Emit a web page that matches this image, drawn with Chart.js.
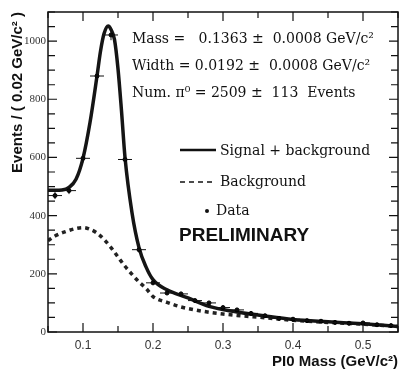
<!DOCTYPE html>
<html>
<head>
<meta charset="utf-8">
<script src="https://cdn.jsdelivr.net/npm/chart.js@4"></script>
<style>
  html, body { margin: 0; padding: 0; background: #fff; }
  #wrap { width: 415px; height: 375px; }
</style>
</head>
<body>
<div id="wrap"><canvas id="massChart" width="415" height="375"></canvas></div>
<script>
// fitted curve: signal + background
const fitMass = [0.05, 0.06, 0.07, 0.08, 0.09, 0.10, 0.11, 0.12, 0.125, 0.13, 0.136, 0.14, 0.145, 0.15, 0.155, 0.16, 0.17, 0.18, 0.19, 0.20, 0.22, 0.25, 0.28, 0.32, 0.36, 0.40, 0.45, 0.50, 0.55];
const fitEvents = [487, 487, 488, 497, 525, 597, 720, 880, 965, 1025, 1052, 1040, 1005, 905, 760, 600, 410, 290, 224, 180, 145, 117, 88, 69, 55, 43, 35, 28, 19];

// background only
const bkgMass = [0.05, 0.06, 0.075, 0.09, 0.10, 0.11, 0.12, 0.13, 0.14, 0.15, 0.16, 0.17, 0.18, 0.19, 0.20, 0.22, 0.24, 0.26, 0.28, 0.30, 0.32, 0.36, 0.40, 0.45, 0.50, 0.55];
const bkgEvents = [314, 330, 345, 356, 359, 353, 340, 318, 290, 258, 226, 198, 172, 150, 122, 102, 86, 76, 68, 62, 57, 49, 40, 33, 27, 19];

// histogram bins (0.02 GeV wide)
const dataMass = [0.06, 0.08, 0.10, 0.12, 0.14, 0.16, 0.18, 0.20, 0.22, 0.24, 0.26, 0.28, 0.30, 0.32, 0.34, 0.36, 0.38, 0.40, 0.42, 0.44, 0.46, 0.48, 0.50, 0.52, 0.54];
const dataEvents = [469, 486, 597, 880, 1021, 593, 283, 169, 134, 131, 108, 100, 84, 76, 64, 56, 47, 44, 39, 37, 33, 30, 31, 25, 22];
const dataErr = [12, 12, 14, 17, 18, 14, 10, 8, 7, 7, 6, 6, 6, 5, 5, 5, 4, 4, 4, 4, 4, 4, 4, 3, 3];
const binHalf = 0.01;

const fitLines = [
    "Mass =   0.1363 \u00b1  0.0008 GeV/c\u00b2",
    "Width = 0.0192 \u00b1  0.0008 GeV/c\u00b2",
    "Num. \u03c0\u2070 = 2509 \u00b1  113  Events"
];

const serif = "'DejaVu Serif', serif";
const sans = "'Liberation Sans', Arial, sans-serif";

function toPoints(xs, ys) {
    return xs.map((x, i) => ({ x: x, y: ys[i] }));
}

// frame, inward ticks, error bars, legend and fit results
const decorations = {
    id: "decorations",
    afterDatasetsDraw(chart) {
        const ctx = chart.ctx;
        const xs = chart.scales.x;
        const ys = chart.scales.y;
        ctx.save();
        ctx.strokeStyle = "#111";
        ctx.lineWidth = 1;
        dataMass.forEach((m, i) => {
            const px = xs.getPixelForValue(m);
            const py = ys.getPixelForValue(dataEvents[i]);
            const x0 = xs.getPixelForValue(m - binHalf);
            const x1 = xs.getPixelForValue(m + binHalf);
            const y0 = ys.getPixelForValue(dataEvents[i] - dataErr[i]);
            const y1 = ys.getPixelForValue(dataEvents[i] + dataErr[i]);
            ctx.beginPath();
            ctx.moveTo(x0, py); ctx.lineTo(x1, py);
            ctx.moveTo(px, y0); ctx.lineTo(px, y1);
            ctx.stroke();
        });
        ctx.restore();
    },
    afterDraw(chart) {
        const ctx = chart.ctx;
        const a = chart.chartArea;
        const xs = chart.scales.x;
        const ys = chart.scales.y;
        ctx.save();

        // frame
        ctx.strokeStyle = "#111";
        ctx.lineWidth = 1.5;
        ctx.strokeRect(a.left, a.top, a.right - a.left, a.bottom - a.top);

        // ticks pointing into the plot
        ctx.lineWidth = 1.2;
        ctx.beginPath();
        xs.ticks.forEach(t => {
            const px = xs.getPixelForValue(t.value);
            const len = t.label ? 9 : 6;
            ctx.moveTo(px, a.bottom); ctx.lineTo(px, a.bottom - len);
            ctx.moveTo(px, a.top); ctx.lineTo(px, a.top + len);
        });
        ys.ticks.forEach(t => {
            const py = ys.getPixelForValue(t.value);
            const len = t.label ? 9 : 7;
            ctx.moveTo(a.left, py); ctx.lineTo(a.left + len, py);
            ctx.moveTo(a.right, py); ctx.lineTo(a.right - len, py);
        });
        ctx.stroke();

        // fit results
        ctx.fillStyle = "#111";
        ctx.font = "14px " + serif;
        ctx.textBaseline = "middle";
        ctx.textAlign = "left";
        fitLines.forEach((line, i) => ctx.fillText(line, 132, 39 + i * 27));

        // legend
        ctx.lineWidth = 2.5;
        ctx.beginPath();
        ctx.moveTo(180, 150); ctx.lineTo(216, 150);
        ctx.stroke();
        ctx.setLineDash([5, 4]);
        ctx.lineWidth = 1.5;
        ctx.beginPath();
        ctx.moveTo(180, 182); ctx.lineTo(216, 182);
        ctx.stroke();
        ctx.setLineDash([]);
        ctx.beginPath();
        ctx.arc(207, 211, 2, 0, Math.PI * 2);
        ctx.fill();
        ctx.fillText("Signal + background", 220, 151);
        ctx.fillText("Background", 220, 182);
        ctx.fillText("Data", 216, 211);

        ctx.font = "bold 19px " + sans;
        ctx.fillText("PRELIMINARY", 179, 236);
        ctx.restore();
    }
};

const chart = new Chart(document.getElementById("massChart"), {
    type: "line",
    data: {
        datasets: [
            {
                type: "scatter",
                label: "Data",
                data: toPoints(dataMass, dataEvents),
                backgroundColor: "#000",
                borderColor: "#000",
                pointRadius: 2,
                order: 0
            },
            {
                label: "Signal + background",
                data: toPoints(fitMass, fitEvents),
                borderColor: "#151515",
                borderWidth: 3.5,
                pointRadius: 0,
                cubicInterpolationMode: "monotone",
                fill: false,
                order: 1
            },
            {
                label: "Background",
                data: toPoints(bkgMass, bkgEvents),
                borderColor: "#222",
                borderWidth: 3.5,
                borderDash: [4, 4],
                pointRadius: 0,
                cubicInterpolationMode: "monotone",
                fill: false,
                order: 2
            }
        ]
    },
    options: {
        responsive: false,
        animation: false,
        devicePixelRatio: 1,
        layout: { padding: { top: 12, right: 17, left: 0, bottom: 0 } },
        plugins: {
            legend: { display: false },
            tooltip: { enabled: false }
        },
        scales: {
            x: {
                type: "linear",
                min: 0.05,
                max: 0.55,
                border: { display: false },
                grid: { display: false, drawTicks: false },
                ticks: {
                    stepSize: 0.05,
                    padding: 6,
                    maxRotation: 0,
                    autoSkip: false,
                    color: "#333",
                    font: { family: sans, size: 12 },
                    callback: v => (Math.round(v * 100) % 10 === 0 ? v.toFixed(1) : "")
                },
                title: {
                    display: true,
                    text: "PI0 Mass (GeV/c\u00b2)",
                    align: "end",
                    color: "#111",
                    font: { family: sans, size: 15, weight: "bold" },
                    padding: { top: 0, bottom: 4 }
                },
                afterFit: s => { s.height = 43; }
            },
            y: {
                min: 0,
                max: 1100,
                border: { display: false },
                grid: { display: false, drawTicks: false },
                ticks: {
                    stepSize: 50,
                    padding: 2,
                    autoSkip: false,
                    color: "#333",
                    font: { family: "'Liberation Serif', serif", size: 11 },
                    callback: v => (v % 200 === 0 ? String(v) : "")
                },
                title: {
                    display: true,
                    text: "Events / ( 0.02 GeV/c\u00b2 )",
                    align: "end",
                    color: "#111",
                    font: { family: sans, size: 15, weight: "bold" },
                    padding: { top: 9, bottom: 0 }
                },
                afterFit: s => { s.width = 48; }
            }
        }
    },
    plugins: [decorations]
});
</script>
</body>
</html>
